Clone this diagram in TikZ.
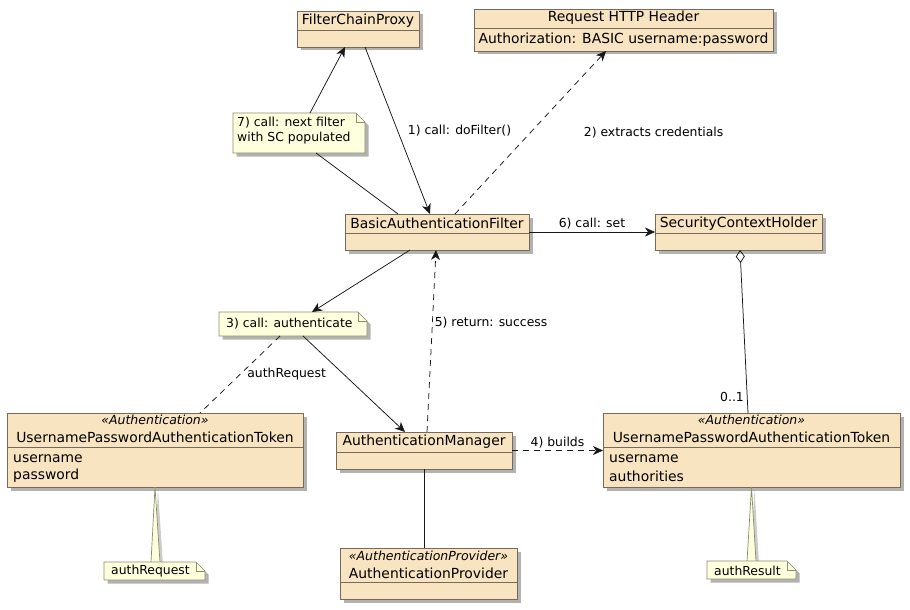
\documentclass[tikz,border=0pt]{standalone}
\usepackage{fontspec}
\setmainfont{DejaVu Sans}
\usetikzlibrary{arrows.meta,shadows}
\definecolor{clsfill}{HTML}{F8E4C0}
\definecolor{clsline}{HTML}{766B5B}
\definecolor{notefill}{HTML}{FEFFDD}
\definecolor{noteline}{HTML}{8C8C6E}
\definecolor{edgecol}{HTML}{181818}
\newcommand\fname{\fontsize{13.9}{16}\selectfont}
\newcommand\flabel{\fontsize{12.4}{15}\selectfont}
\newcommand\fstereo{\fontsize{12.5}{15}\selectfont\itshape}
\tikzset{
  cls/.style={draw=clsline, fill=clsfill, line width=0.8pt, inner sep=0pt, outer sep=0pt,
    drop shadow={shadow xshift=3.5pt, shadow yshift=-3.5pt, fill=black, opacity=0.3}},
  sepline/.style={draw=clsline, line width=0.8pt},
  notebg/.style={draw=noteline, fill=notefill, line width=0.7pt,
    drop shadow={shadow xshift=3.5pt, shadow yshift=-3.5pt, fill=black, opacity=0.3}},
  noteln/.style={draw=noteline, line width=0.7pt},
  anchorbox/.style={inner sep=0pt, outer sep=0pt},
  edge/.style={draw=edgecol, line width=0.75pt},
  arr/.style={-{Stealth[length=10pt, width=9pt, inset=3pt]}},
  dsh/.style={dash pattern=on 6pt off 5pt},
  lbl/.style={font=\flabel, inner sep=1pt, text=black},
  nm/.style={font=\fname, inner sep=0pt},
  st/.style={font=\fstereo, inner sep=0pt},
}
% name, x1, y1, x2, y2, separator y
\newcommand\clsbox[6]{%
  \node[cls, minimum width={(#4-#2)*1pt}, minimum height={(#5-#3)*1pt}] (#1) at ({(#2+#4)/2},{(#3+#5)/2}) {};
  \draw[sepline] (#2,#6) -- (#4,#6);}
% name, x1, y1, x2, y2
\newcommand\notebox[5]{%
  \path[notebg] (#2,#3) -- ({#4-9},#3) -- (#4,{#3+9}) -- (#4,#5) -- (#2,#5) -- cycle;
  \draw[noteln] ({#4-9},#3) -- ({#4-9},{#3+9}) -- (#4,{#3+9});
  \node[anchorbox, minimum width={(#4-#2)*1pt}, minimum height={(#5-#3)*1pt}] (#1) at ({(#2+#4)/2},{(#3+#5)/2}) {};}
\begin{document}
\begin{tikzpicture}[x=1pt, y=-1pt]
\useasboundingbox (0,0) rectangle (910,610);
\fill[white] (0,0) rectangle (910,610);

% classes
\clsbox{fcp}{297}{11}{419}{47}{30}
\node[nm] at (358,20.5) {FilterChainProxy};

\clsbox{hdr}{474}{9}{773}{51}{28}
\node[nm] at (623.5,18) {Request HTTP Header};
\node[nm] at (623.5,39.5) {Authorization: BASIC username:password};

\clsbox{baf}{345}{214}{529}{250}{233}
\node[nm] at (437,223.5) {BasicAuthenticationFilter};

\clsbox{sch}{655}{214}{822}{250}{233}
\node[nm] at (738.5,223.5) {SecurityContextHolder};

\clsbox{ltok}{7}{413}{303}{487}{447}
\node[st] at (155,420) {«Authentication»};
\node[nm] at (155,437) {UsernamePasswordAuthenticationToken};
\node[nm, anchor=west] at (13,459) {username};
\node[nm, anchor=west] at (13,476) {password};

\clsbox{am}{336}{432}{512}{469}{452}
\node[nm] at (424,442) {AuthenticationManager};

\clsbox{rtok}{603}{413}{900}{487}{447}
\node[st] at (751.5,420) {«Authentication»};
\node[nm] at (751.5,437) {UsernamePasswordAuthenticationToken};
\node[nm, anchor=west] at (609,459) {username};
\node[nm, anchor=west] at (609,476) {authorities};

\clsbox{ap}{340}{548}{517}{599}{582}
\node[st] at (428.5,555.5) {«AuthenticationProvider»};
\node[nm] at (428.5,573) {AuthenticationProvider};

% notes
\notebox{nseven}{233}{113}{365}{153}
\node[lbl, anchor=north west, align=left, inner sep=0pt] at (237,116.5) {7) call: next filter\\with SC populated};

\notebox{nthree}{219}{312}{367}{336}
\node[lbl, anchor=west, inner sep=0pt] at (226,324) {3) call: authenticate};

% note tails
\path[fill=black, opacity=0.2] ([xshift=3pt, yshift=-3pt]ltok.south) -- (154,565) -- (163,565) -- cycle;
\path[fill=notefill] (ltok.south) -- (151,562.5) -- (160,562.5) -- cycle;
\draw[noteln] (151,562.5) -- (ltok.south) -- (160,562.5);
\path[fill=black, opacity=0.2] ([xshift=3pt, yshift=-3pt]rtok.south) -- (750,564) -- (759,564) -- cycle;
\path[fill=notefill] (rtok.south) -- (747,561.5) -- (756,561.5) -- cycle;
\draw[noteln] (747,561.5) -- (rtok.south) -- (756,561.5);

\notebox{nreq}{104}{562}{205}{580}
\node[lbl, anchor=west, inner sep=0pt] at (111,571.5) {authRequest};
\notebox{nres}{707}{561}{796}{579}
\node[lbl, anchor=west, inner sep=0pt] at (714,570.5) {authResult};

% connectors
\draw[edge, arr] ([xshift=7pt]fcp.south) -- ([xshift=-7pt]baf.north)
  node[lbl, pos=.5, anchor=west, xshift=9pt] {1) call: doFilter()};
\draw[edge, arr] ([xshift=11pt]nseven.north) -- ([xshift=-13pt]fcp.south);
\draw[edge] ([xshift=-39pt]baf.north) -- ([xshift=17pt]nseven.south);
\draw[edge, dsh, arr] ([xshift=18pt]baf.north) -- ([xshift=-17.5pt]hdr.south)
  node[lbl, pos=.5, anchor=west, xshift=52pt] {2) extracts credentials};
\draw[edge, arr] (baf.east) -- (baf.east -| sch.west)
  node[lbl, pos=.5, above=1pt] {6) call: set};
\draw[edge, {Diamond[open, length=13pt, width=9pt]}-] ([xshift=1.5pt]sch.south) -- ([xshift=-3.5pt]rtok.north)
  node[lbl, pos=.9, anchor=east, xshift=-2pt] {0..1};
\draw[edge, arr] ([xshift=-27pt]baf.south) -- ([xshift=19pt]nthree.north);
\draw[edge, arr] ([xshift=10pt]nthree.south) -- ([xshift=-19pt]am.north);
\draw[edge, dsh] ([xshift=-13pt]nthree.south) -- ([xshift=45pt]ltok.north)
  node[lbl, pos=.5, anchor=west, xshift=6pt] {authRequest};
\draw[edge, dsh, arr] ([xshift=3pt]am.north) -- ([xshift=-1pt]baf.south)
  node[lbl, pos=.6, anchor=west, xshift=1pt] {5) return: success};
\draw[edge, dsh, arr] (am.east) -- (am.east -| rtok.west)
  node[lbl, pos=.5, above=1pt] {4) builds};
\draw[edge] (am.south) -- (am.south |- ap.north);
\end{tikzpicture}
\end{document}
